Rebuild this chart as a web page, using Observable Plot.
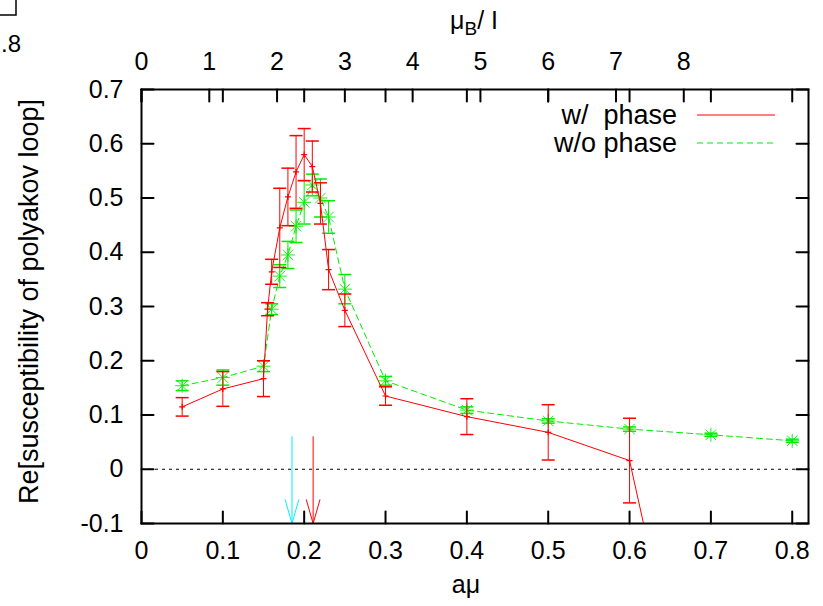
<!DOCTYPE html>
<html><head><meta charset="utf-8">
<script src="https://cdn.jsdelivr.net/npm/d3@7"></script>
<script src="https://cdn.jsdelivr.net/npm/@observablehq/plot@0.6"></script>
<style>
body{margin:0;background:#fff;}
#chart{position:relative;width:823px;height:606px;overflow:hidden;}
</style>
</head><body><div id="chart"></div>
<script>
// ---- data ----
const redX   = [0.05, 0.1, 0.15, 0.155, 0.16, 0.17, 0.18, 0.19, 0.2, 0.21, 0.22, 0.23, 0.25, 0.3, 0.4, 0.5, 0.6, 0.7];
const redY   = [0.115, 0.148, 0.167, 0.295, 0.364, 0.445, 0.502, 0.548, 0.580, 0.558, 0.490, 0.368, 0.293, 0.135, 0.097, 0.068, 0.016, -0.66];
const redErr = [0.017, 0.032, 0.033, 0.012, 0.023, 0.073, 0.053, 0.067, 0.048, 0.047, 0.038, 0.037, 0.030, 0.017, 0.033, 0.051, 0.078, 0.05];

const greenX   = [0.05, 0.1, 0.15, 0.16, 0.17, 0.18, 0.19, 0.2, 0.21, 0.22, 0.23, 0.25, 0.3, 0.4, 0.5, 0.6, 0.7, 0.8];
const greenY   = [0.154, 0.169, 0.190, 0.295, 0.356, 0.395, 0.448, 0.492, 0.524, 0.500, 0.465, 0.332, 0.163, 0.109, 0.089, 0.074, 0.0635, 0.0525];
const greenErr = [0.009, 0.014, 0.010, 0.010, 0.021, 0.025, 0.030, 0.040, 0.020, 0.035, 0.030, 0.027, 0.008, 0.006, 0.004, 0.004, 0.003, 0.003];

const xTicks = [0, 0.1, 0.2, 0.3, 0.4, 0.5, 0.6, 0.7, 0.8];
const yTicks = [-0.1, 0, 0.1, 0.2, 0.3, 0.4, 0.5, 0.6, 0.7];
const topTicks = [0, 1, 2, 3, 4, 5, 6, 7, 8];   // mu_B / T
const muBPerAmu = 12;                            // mu_B/T = 12 a*mu
const arrowXs = [0.185, 0.211];                  // cyan, red
const arrowColors = ["#00eeff", "#ff0000"];
const arrowDash = ["7,3,2,3", null];
const arrowTop = 0.06;
const legendLabels = ["w/  phase", "w/o phase"];
const xLabel = "aμ";
const yLabel = "Re[susceptibility of polyakov loop]";

const RED = "#ff0000", GREEN = "#00ee00";
const FONT = "'Liberation Sans', Arial, Helvetica, sans-serif";

const red = redX.map((x, i) => ({x, y: redY[i], e: redErr[i]}));
const green = greenX.map((x, i) => ({x, y: greenY[i], e: greenErr[i]}));
const arrows = arrowXs.map((x, i) => ({x, c: arrowColors[i], d: arrowDash[i]}));

const cap = {draw(ctx, size) { const r = Math.sqrt(size / Math.PI); ctx.moveTo(-r, 0); ctx.lineTo(r, 0); }};
const plus = {draw(ctx, size) { const r = Math.sqrt(size / Math.PI); ctx.moveTo(-r, 0); ctx.lineTo(r, 0); ctx.moveTo(0, -r); ctx.lineTo(0, r); }};
const times = {draw(ctx, size) { const r = Math.sqrt(size / Math.PI) * 0.75; ctx.moveTo(-r, -r); ctx.lineTo(r, r); ctx.moveTo(-r, r); ctx.lineTo(r, -r); }};
const tickShape = {draw(ctx, l) { ctx.moveTo(0, 0); ctx.lineTo(0, -l); }};

const fmt = d => String(d);

const svg = Plot.plot({
  width: 823, height: 606,
  marginLeft: 141, marginRight: 15, marginTop: 89, marginBottom: 83,
  style: {fontFamily: FONT, fontSize: "25px", background: "white", color: "black"},
  x: {domain: [0, 0.82]},
  y: {domain: [-0.1, 0.7]},
  marks: [
    Plot.ruleY([0], {stroke: "black", strokeWidth: 1, strokeDasharray: "3,4"}),
    // green (w/o phase)
    Plot.ruleX(green, {x: "x", y1: d => d.y - d.e, y2: d => d.y + d.e, stroke: GREEN, strokeWidth: 1, clip: true}),
    Plot.dot(green, {x: "x", y: d => d.y + d.e, symbol: cap, r: 6.5, stroke: GREEN, fill: "none", clip: true}),
    Plot.dot(green, {x: "x", y: d => d.y - d.e, symbol: cap, r: 6.5, stroke: GREEN, fill: "none", clip: true}),
    Plot.line(green, {x: "x", y: "y", stroke: GREEN, strokeWidth: 1, strokeDasharray: "6,4", clip: true}),
    Plot.dot(green, {x: "x", y: "y", symbol: plus, r: 7, stroke: GREEN, fill: "none", strokeWidth: 0.9}),
    Plot.dot(green, {x: "x", y: "y", symbol: times, r: 7, stroke: GREEN, fill: "none", strokeWidth: 0.9}),
    // red (w/ phase)
    Plot.ruleX(red, {x: "x", y1: d => d.y - d.e, y2: d => d.y + d.e, stroke: RED, strokeWidth: 1, clip: true}),
    Plot.dot(red, {x: "x", y: d => d.y + d.e, symbol: cap, r: 6.5, stroke: RED, fill: "none", clip: true}),
    Plot.dot(red, {x: "x", y: d => d.y - d.e, symbol: cap, r: 6.5, stroke: RED, fill: "none", clip: true}),
    Plot.line(red, {x: "x", y: "y", stroke: RED, strokeWidth: 1, clip: true}),
    Plot.dot(red, {x: "x", y: "y", symbol: plus, r: 3, stroke: RED, fill: "none", strokeWidth: 1.2, clip: true}),
    // arrows
    Plot.arrow(arrows, {x1: "x", x2: "x", y1: arrowTop, y2: -0.1, stroke: d => d.c, strokeDasharray: d => d.d,
      strokeWidth: 1, headLength: 37, headAngle: 32}),
    Plot.frame({stroke: "black", strokeWidth: 2}),
    // inward ticks
    Plot.vectorX(xTicks, {x: d => d, frameAnchor: "bottom", length: 12, anchor: "start", shape: tickShape, stroke: "black", strokeWidth: 2}),
    Plot.vectorX(xTicks, {x: d => d, frameAnchor: "top", length: 12, rotate: 180, anchor: "start", shape: tickShape, stroke: "black", strokeWidth: 2}),
    Plot.vectorX(topTicks, {x: d => d / muBPerAmu, frameAnchor: "top", length: 12, rotate: 180, anchor: "start", shape: tickShape, stroke: "black", strokeWidth: 2}),
    Plot.vectorY(yTicks, {y: d => d, frameAnchor: "left", length: 12, rotate: 90, anchor: "start", shape: tickShape, stroke: "black", strokeWidth: 2}),
    Plot.vectorY(yTicks, {y: d => d, frameAnchor: "right", length: 12, rotate: -90, anchor: "start", shape: tickShape, stroke: "black", strokeWidth: 2}),
    // tick labels
    Plot.axisX({anchor: "bottom", ticks: xTicks, tickFormat: fmt, tickSize: 0, tickPadding: 18, fontSize: 25, label: null}),
    Plot.axisX({anchor: "top", ticks: topTicks.map(k => k / muBPerAmu), tickFormat: d => String(Math.round(d * muBPerAmu)), tickSize: 0, tickPadding: 20, fontSize: 25, label: null}),
    Plot.axisY({anchor: "left", ticks: yTicks, tickFormat: fmt, tickSize: 0, tickPadding: 18, fontSize: 25, label: null}),
    // axis titles
    Plot.text([xLabel], {text: d => d, frameAnchor: "bottom", textAnchor: "middle", dx: -9, dy: 69, fontSize: 25}),
    Plot.text([yLabel], {text: d => d, frameAnchor: "left", textAnchor: "middle", rotate: -90, dx: -112, dy: -5, fontSize: 27})
  ]
});

document.getElementById("chart").appendChild(svg);

// top axis title with subscript, legend, and the stray clipped marks at the top-left
const s = d3.select(svg);
const t = s.append("text").attr("x", 474).attr("y", 29).attr("text-anchor", "middle")
  .attr("font-family", FONT).attr("font-size", 25).attr("fill", "black");
t.append("tspan").text("μ");
t.append("tspan").attr("font-size", 19).attr("dy", 6).text("B");
t.append("tspan").attr("dy", -6).text("/ I");

const legend = s.append("g").attr("font-family", FONT).attr("font-size", 27).attr("fill", "black");
legendLabels.forEach((lab, i) => {
  const yy = 115 + i * 28;
  legend.append("text").attr("x", 677).attr("y", yy).attr("dy", "0.32em").attr("text-anchor", "end")
    .style("white-space", "pre").text(lab);
  legend.append("line").attr("x1", 697).attr("x2", 775).attr("y1", yy).attr("y2", yy)
    .attr("stroke", i === 0 ? RED : GREEN).attr("stroke-width", 1)
    .attr("stroke-dasharray", i === 0 ? null : "6,4");
});

s.append("rect").attr("x", -2).attr("y", -2).attr("width", 18).attr("height", 17)
  .attr("fill", "none").attr("stroke", "black").attr("stroke-width", 1.5);
s.append("text").attr("x", 1).attr("y", 52).attr("text-anchor", "start")
  .attr("font-family", FONT).attr("font-size", 24).attr("fill", "black").text(".8");
</script>
</body></html>
